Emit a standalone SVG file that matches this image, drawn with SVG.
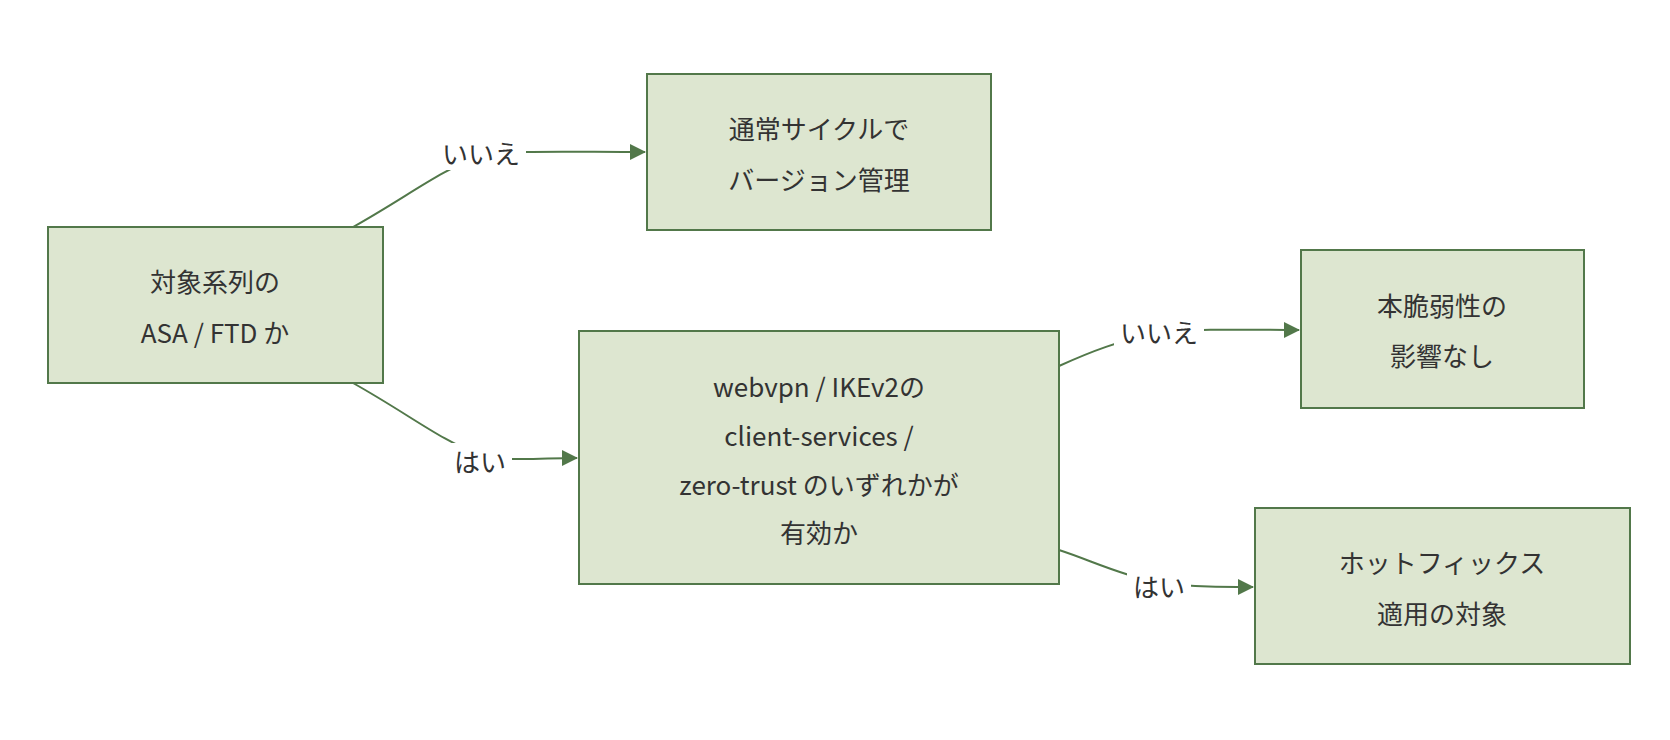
<svg xmlns="http://www.w3.org/2000/svg" width="1670" height="740" viewBox="0 0 1670 740">
<defs>
<style>
.n{fill:#dde6d0;stroke:#52784a;stroke-width:2}
.t{font-family:"Noto Sans CJK JP","Liberation Sans",sans-serif;font-size:26px;fill:#333;text-anchor:middle;dominant-baseline:central}
.e{fill:none;stroke:#52784a;stroke-width:2}
.lb{fill:#fff}
</style>
<marker id="ar" viewBox="0 0 10 10" refX="9" refY="5" markerWidth="8" markerHeight="8" orient="auto-start-reverse" markerUnits="userSpaceOnUse"><path d="M0,0L10,5L0,10z" fill="#52784a" transform="scale(1.6) translate(-3.5,-1.9)"/></marker>
<marker id="a" viewBox="0 0 16 16" refX="15" refY="8" markerWidth="16" markerHeight="16" orient="auto" markerUnits="userSpaceOnUse"><path d="M0,0L16,8L0,16z" fill="#52784a"/></marker>
</defs>
<rect width="1670" height="740" fill="#fff"/>
<g id="edges">
<path class="e" d="M353,227 C410,195 440,170 481,156 C510,150 560,152 645,152" marker-end="url(#a)"/>
<path class="e" d="M353,383 C410,415 440,440 480,455 C510,462 540,458 577,458" marker-end="url(#a)"/>
<path class="e" d="M1059,366 C1090,352 1120,340 1159,333 C1200,328 1250,330 1299,330" marker-end="url(#a)"/>
<path class="e" d="M1059,550 C1090,560 1120,575 1159,583 C1200,588 1230,587 1253,587" marker-end="url(#a)"/>
</g>
<g id="labels">
<rect class="lb" x="436" y="136" width="90" height="34"/><text class="t" x="481" y="152">いいえ</text>
<rect class="lb" x="448" y="443" width="64" height="34"/><text class="t" x="480" y="460">はい</text>
<rect class="lb" x="1114" y="314" width="90" height="34"/><text class="t" x="1159" y="331">いいえ</text>
<rect class="lb" x="1127" y="568" width="64" height="34"/><text class="t" x="1159" y="585">はい</text>
</g>
<g id="nA"><rect class="n" x="48" y="227" width="335" height="156"/><text class="t" x="215" y="280">対象系列の</text><text class="t" x="215" y="331">ASA / FTD か</text></g>
<g id="nB"><rect class="n" x="647" y="74" width="344" height="156"/><text class="t" x="819" y="127">通常サイクルで</text><text class="t" x="819" y="178">バージョン管理</text></g>
<g id="nC"><rect class="n" x="579" y="331" width="480" height="253"/><text class="t" x="819" y="385">webvpn / IKEv2の</text><text class="t" x="819" y="434">client-services /</text><text class="t" x="819" y="483">zero-trust のいずれかが</text><text class="t" x="819" y="531">有効か</text></g>
<g id="nD"><rect class="n" x="1301" y="250" width="283" height="158"/><text class="t" x="1442" y="304">本脆弱性の</text><text class="t" x="1442" y="354">影響なし</text></g>
<g id="nE"><rect class="n" x="1255" y="508" width="375" height="156"/><text class="t" x="1442" y="561">ホットフィックス</text><text class="t" x="1442" y="612">適用の対象</text></g>
</svg>
